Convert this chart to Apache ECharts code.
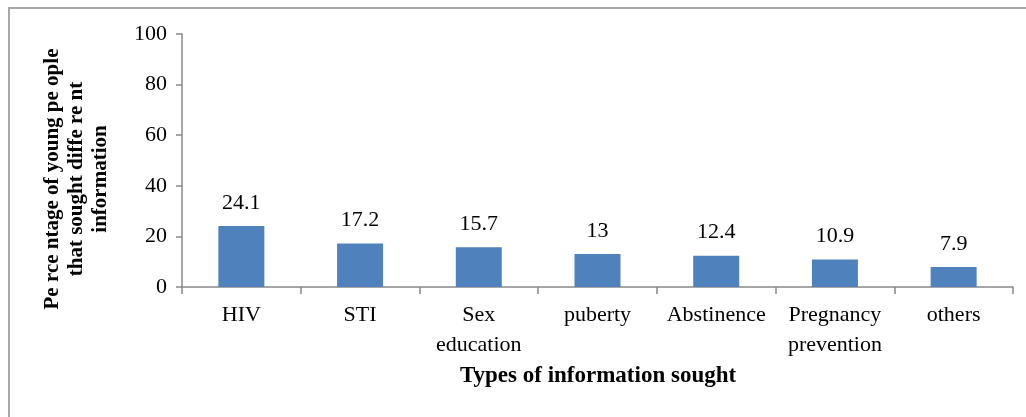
<!DOCTYPE html>
<html>
<head>
<meta charset="utf-8">
<script src="https://cdn.jsdelivr.net/npm/echarts@6/dist/echarts.min.js"></script>
<style>
    html, body { margin: 0; padding: 0; background: #fff; }
    #chart { width: 1026px; height: 417px; }
</style>
</head>
<body>
<div id="chart"></div>
<script>
// categories and values
const categories = ['HIV', 'STI', 'Sex\neducation', 'puberty', 'Abstinence', 'Pregnancy\nprevention', 'others'];
const percentages = [24.1, 17.2, 15.7, 13, 12.4, 10.9, 7.9];
const yTicks = [0, 20, 40, 60, 80, 100];

const serif = '"Liberation Serif", "DejaVu Serif", serif';
const axisGrey = '#898989';

const myChart = echarts.init(document.getElementById('chart'));
const option = {
    backgroundColor: '#fff',
    animation: false,
    graphic: [
        // outer frame, only top and left edges show in the picture
        { type: 'line', shape: { x1: 8, y1: 8, x2: 1026, y2: 8 }, style: { stroke: '#a8a8a8', lineWidth: 2 } },
        { type: 'line', shape: { x1: 9, y1: 8, x2: 9, y2: 417 }, style: { stroke: '#a8a8a8', lineWidth: 2 } },
        {
            type: 'text',
            x: 598, y: 376,
            style: {
                text: 'Types of information sought',
                font: 'bold 23px ' + serif,
                fill: '#000',
                align: 'center',
                verticalAlign: 'middle'
            }
        },
        {
            type: 'text',
            x: 77, y: 179,
            rotation: Math.PI / 2,
            style: {
                text: 'Pe rce ntage of young pe ople\nthat sought diffe re nt\ninformation',
                font: 'bold 21px ' + serif,
                fill: '#000',
                align: 'center',
                verticalAlign: 'middle',
                lineHeight: 24
            }
        }
    ],
    grid: { left: 182, right: 13, top: 34, bottom: 130 },
    xAxis: {
        type: 'category',
        data: categories,
        axisLine: { lineStyle: { color: axisGrey, width: 1.5 } },
        axisTick: { show: true, length: 7, alignWithLabel: false, lineStyle: { color: axisGrey, width: 1.5 } },
        axisLabel: {
            color: '#000',
            fontFamily: serif,
            fontSize: 22,
            lineHeight: 30,
            margin: 13,
            interval: 0
        }
    },
    yAxis: {
        type: 'value',
        min: 0,
        max: 100,
        interval: 20,
        axisLine: { show: true, lineStyle: { color: axisGrey, width: 1.5 } },
        axisTick: { show: true, length: 6, lineStyle: { color: axisGrey, width: 1.5 } },
        splitLine: { show: false },
        axisLabel: {
            color: '#000',
            fontFamily: serif,
            fontSize: 22,
            margin: 15,
            formatter: (v) => yTicks.includes(v) ? String(v) : ''
        }
    },
    series: [
        {
            type: 'bar',
            data: percentages,
            barWidth: 46,
            itemStyle: { color: '#4f81bd' },
            label: {
                show: true,
                position: 'top',
                distance: 12,
                color: '#000',
                fontFamily: serif,
                fontSize: 22
            }
        }
    ]
};
myChart.setOption(option);
</script>
</body>
</html>
